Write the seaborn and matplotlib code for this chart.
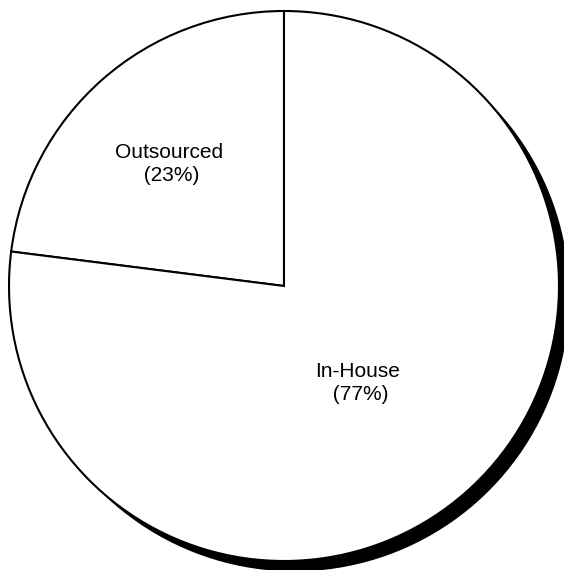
import matplotlib
matplotlib.use("Agg")
import matplotlib.pyplot as plt
import matplotlib.patheffects as pe
import seaborn as sns

# Sourcing split
categories = ["Outsourced", "In-House"]
shares = [23, 77]
label_texts = ["Outsourced\n (23%)", "In-House\n (77%)"]

sns.set_theme(style="white")
plt.rcParams["font.family"] = ["Liberation Sans", "DejaVu Sans"]

fig = plt.figure(figsize=(5.64, 5.70), dpi=100)
ax = fig.add_axes([0, 0, 1, 1])

wedges, _ = ax.pie(
    shares,
    startangle=90,
    counterclock=True,
    colors=["white", "white"],
    wedgeprops=dict(edgecolor="black", linewidth=1.5),
)

# solid drop shadow toward the lower right
for w in wedges:
    w.set_path_effects([
        pe.SimplePatchShadow(offset=(7.5, -7.5), shadow_rgbFace="black", alpha=1.0),
        pe.Normal(),
    ])

# label placement inside each wedge (data units, pie radius = 1)
label_pos = [(-0.418, 0.444), (0.268, -0.353)]
for (x, y), txt in zip(label_pos, label_texts):
    ax.text(x, y, txt, ha="center", va="center", multialignment="center",
            fontsize=15, color="black", linespacing=1.25)

scale = 275.0
cx, cy = 284.0, 286.0
ax.set_xlim(-cx / scale, (564 - cx) / scale)
ax.set_ylim((cy - 570) / scale, cy / scale)
ax.set_aspect("equal")
ax.axis("off")

fig.savefig("out.png", dpi=100, facecolor="white")
